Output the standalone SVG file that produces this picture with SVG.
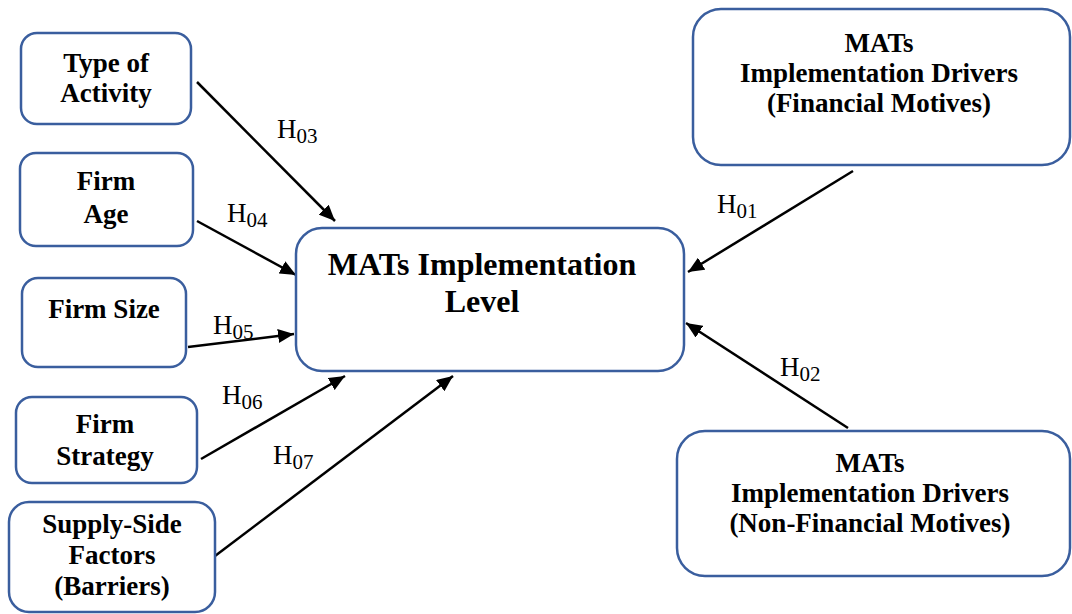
<svg xmlns="http://www.w3.org/2000/svg" width="1072" height="614" viewBox="0 0 1072 614">
<defs>
<style>
.box{fill:#fff;stroke:#3A5E9E;stroke-width:2.5}
.t{font-weight:bold;font-size:27px;fill:#000;text-anchor:middle}
.big{font-size:32px}
.lbl{font-size:27px;fill:#000}
.sub{font-size:21px}
.c{stroke:#000;stroke-width:2.5;fill:none;marker-end:url(#ah)}
</style>
<marker id="ah" markerUnits="userSpaceOnUse" markerWidth="18" markerHeight="14" refX="16" refY="7" orient="auto">
<path d="M0,0 L16,7 L0,14 Z" fill="#000"/>
</marker>
</defs>
<rect width="1072" height="614" fill="#fff"/>
<g id="connectors">
<line class="c" x1="197" y1="82" x2="335" y2="221"/>
<line class="c" x1="197" y1="221" x2="296" y2="275"/>
<line class="c" x1="188" y1="347" x2="294" y2="334"/>
<line class="c" x1="201" y1="459" x2="345" y2="376"/>
<line class="c" x1="215" y1="556" x2="453" y2="376"/>
<line class="c" x1="853" y1="171" x2="688" y2="272"/>
<line class="c" x1="848" y1="428" x2="686" y2="323"/>
</g>
<g id="labels" font-family="'Liberation Serif', 'Times New Roman', serif">
<text class="lbl" x="277" y="138">H<tspan class="sub" dy="5">03</tspan></text>
<text class="lbl" x="227" y="222">H<tspan class="sub" dy="5">04</tspan></text>
<text class="lbl" x="213" y="334">H<tspan class="sub" dy="5">05</tspan></text>
<text class="lbl" x="222" y="404">H<tspan class="sub" dy="5">06</tspan></text>
<text class="lbl" x="273" y="464">H<tspan class="sub" dy="5">07</tspan></text>
<text class="lbl" x="717" y="213">H<tspan class="sub" dy="5">01</tspan></text>
<text class="lbl" x="780" y="376">H<tspan class="sub" dy="5">02</tspan></text>
</g>
<g id="nodes" font-family="'Liberation Serif', 'Times New Roman', serif">
<g id="type-of-activity">
<rect class="box" x="21" y="33" width="170" height="91" rx="16"/>
<text class="t" x="106" y="72">Type of</text>
<text class="t" x="106" y="102">Activity</text>
</g>
<g id="firm-age">
<rect class="box" x="20" y="153" width="173" height="93" rx="16"/>
<text class="t" x="106" y="190">Firm</text>
<text class="t" x="106" y="223">Age</text>
</g>
<g id="firm-size">
<rect class="box" x="22" y="278" width="164" height="89" rx="16"/>
<text class="t" x="104" y="318">Firm Size</text>
</g>
<g id="firm-strategy">
<rect class="box" x="16" y="397" width="181" height="86" rx="16"/>
<text class="t" x="105" y="433">Firm</text>
<text class="t" x="105" y="465">Strategy</text>
</g>
<g id="supply-side">
<rect class="box" x="9" y="502" width="206" height="110" rx="20"/>
<text class="t" x="112" y="533">Supply-Side</text>
<text class="t" x="112" y="564">Factors</text>
<text class="t" x="112" y="595">(Barriers)</text>
</g>
<g id="mats-level">
<rect class="box" x="296" y="228" width="388" height="143" rx="26"/>
<text class="t big" x="482" y="275">MATs Implementation</text>
<text class="t big" x="482" y="312">Level</text>
</g>
<g id="drivers-financial">
<rect class="box" x="693" y="9" width="377" height="156" rx="28"/>
<text class="t" x="879" y="52">MATs</text>
<text class="t" x="879" y="82">Implementation Drivers</text>
<text class="t" x="879" y="112">(Financial Motives)</text>
</g>
<g id="drivers-nonfinancial">
<rect class="box" x="677" y="431" width="393" height="145" rx="28"/>
<text class="t" x="870" y="472">MATs</text>
<text class="t" x="870" y="502">Implementation Drivers</text>
<text class="t" x="870" y="532">(Non-Financial Motives)</text>
</g>
</g>
</svg>
